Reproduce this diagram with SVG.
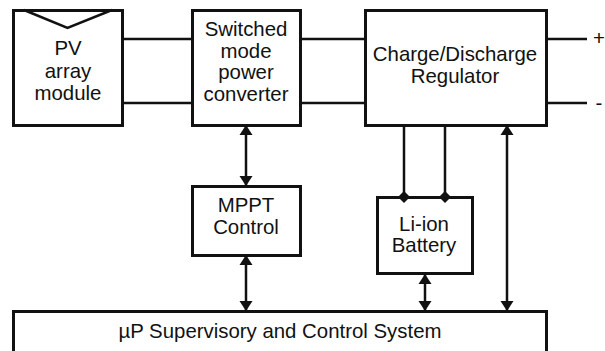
<svg xmlns="http://www.w3.org/2000/svg" width="605" height="351" viewBox="0 0 605 351">
<style>
.b{fill:#fff;stroke:#111;stroke-width:3}
.c{fill:none;stroke:#111;stroke-width:2.5}
.a{fill:#111;stroke:none}
text{font-family:"Liberation Sans",Arial,sans-serif;font-size:20.4px;fill:#111;text-anchor:middle}
</style>
<defs>
<marker id="ah" markerUnits="userSpaceOnUse" markerWidth="10" markerHeight="14" refX="9" refY="7" orient="auto-start-reverse"><path class="a" d="M0 0.500L10 7L0 13.500Z"/></marker>
<marker id="dm" markerUnits="userSpaceOnUse" markerWidth="14" markerHeight="14" refX="7" refY="7" orient="auto"><path class="a" d="M1 7L7 1L13 7L7 13Z"/></marker>
</defs>
<g id="pv"><rect class="b" x="13.500" y="10.500" width="109" height="115"/><path class="c" d="M24 10L67.500 28L112 10"/><text x="68" y="55">PV</text><text x="68" y="78">array</text><text x="68" y="100">module</text></g>
<g id="converter"><rect class="b" x="192.500" y="10.500" width="108" height="115"/><text x="246" y="36">Switched</text><text x="246" y="58">mode</text><text x="246" y="79">power</text><text x="246" y="101">converter</text></g>
<g id="regulator"><rect class="b" x="365.500" y="10.500" width="181" height="115"/><text x="455" y="61">Charge/Discharge</text><text x="455" y="83">Regulator</text></g>
<g id="mppt"><rect class="b" x="192.500" y="186.500" width="108" height="69"/><text x="246" y="212">MPPT</text><text x="246" y="234">Control</text></g>
<g id="battery"><rect class="b" x="377.500" y="197.500" width="95" height="76"/><text x="424" y="231">Li-ion</text><text x="424" y="252">Battery</text></g>
<g id="system"><rect class="b" x="13.500" y="311.500" width="533" height="50"/><text x="280" y="338">µP Supervisory and Control System</text></g>
<g id="terminals"><text x="599" y="45">+</text><text x="599" y="110">-</text></g>
<g id="connectors">
<path class="c" d="M123 39H192M123 103H192M301 39H365M301 103H365M547 39H587M547 103H587"/>
<path class="c" d="M404 125V197" marker-end="url(#dm)"/>
<path class="c" d="M445 125V197" marker-end="url(#dm)"/>
<path class="c" d="M246 126V185" marker-start="url(#ah)" marker-end="url(#ah)"/>
<path class="c" d="M246 256V310" marker-start="url(#ah)" marker-end="url(#ah)"/>
<path class="c" d="M425 275V310" marker-start="url(#ah)" marker-end="url(#ah)"/>
<path class="c" d="M507 126V310" marker-start="url(#ah)" marker-end="url(#ah)"/>
</g>
</svg>
